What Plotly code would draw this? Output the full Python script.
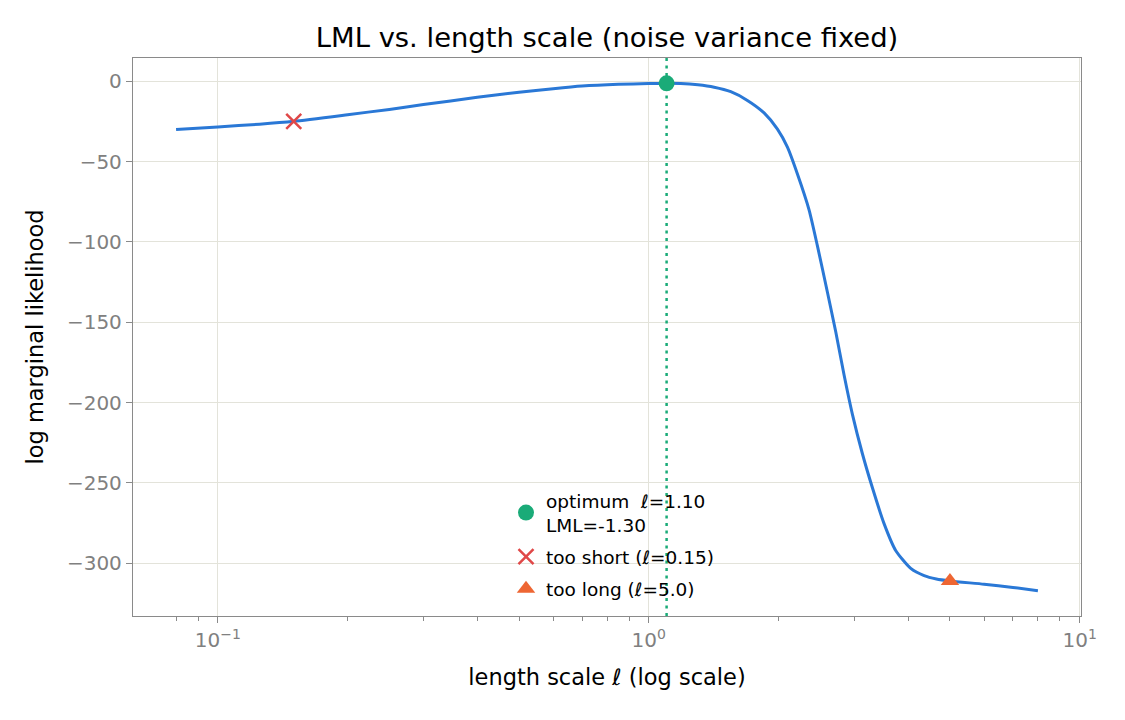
import numpy as np
import plotly.graph_objects as go

# ---- data ----
length_scale = [0.08, 0.10, 0.125, 0.15, 0.20, 0.25, 0.30, 0.40, 0.50, 0.60, 0.70, 0.85,
                1.00, 1.10, 1.186, 1.30, 1.418, 1.55, 1.694, 1.852, 1.989, 2.098, 2.213,
                2.355, 2.462, 2.598, 2.716, 2.839, 2.969, 3.132, 3.304, 3.516, 3.741,
                4.055, 4.355, 4.65, 5.0, 6.0, 7.0, 8.0]
lml = [-30.0, -28.4, -26.7, -24.9, -20.8, -17.5, -14.5, -10.0, -6.8, -4.6, -3.0, -1.9,
       -1.4, -1.30, -1.4, -2.2, -3.7, -6.5, -11.9, -19.7, -29.8, -41.0, -57.7,
       -80.0, -102.3, -131.3, -155.9, -182.7, -207.3, -231.8, -253.0, -275.3, -292.0,
       -303.2, -307.7, -309.8, -311.0, -313.0, -315.0, -317.0]

opt_l, opt_lml = 1.10, -1.30
short_l, short_lml = 0.15, -24.9
long_l, long_lml = 5.0, -311.0

x_tickvals = [0.1, 1, 10]
x_ticktext = ["10<sup>−1</sup>", "10<sup>0</sup>", "10<sup>1</sup>"]
x_minor = [0.08, 0.09] + [k / 10 for k in range(2, 10)] + list(range(2, 10))
y_tickvals = [0, -50, -100, -150, -200, -250, -300]
y_ticktext = ["0", "−50", "−100", "−150", "−200", "−250", "−300"]

# ---- ranges (matplotlib-like 5% margins) ----
lx0, lx1 = np.log10(min(length_scale)), np.log10(max(length_scale))
pad = 0.05 * (lx1 - lx0)
x_range = [lx0 - pad, lx1 + pad]
ypad = 0.05 * (max(lml) - min(lml))
y_range = [min(lml) - ypad, max(lml) + ypad]

BLUE = "#2a78d6"
GREEN = "#1aab78"
RED = "#e04848"
ORANGE = "#ee6633"
GRID = "#e3e3da"
AXC = "#8a8a8a"
TICKC = "#808080"
FONT = "DejaVu Sans"

fig = go.Figure()
fig.add_trace(go.Scatter(x=length_scale, y=lml, mode="lines",
                         line=dict(color=BLUE, width=3, shape="spline", smoothing=0.6),
                         showlegend=False, hoverinfo="skip"))
fig.add_trace(go.Scatter(x=[opt_l, opt_l], y=y_range, mode="lines",
                         line=dict(color=GREEN, width=2.5, dash="3px,4.5px"),
                         showlegend=False, hoverinfo="skip"))
fig.add_trace(go.Scatter(x=[opt_l], y=[opt_lml], mode="markers",
                         marker=dict(color=GREEN, size=16, symbol="circle"),
                         legendgroup="a",
                         name=f"optimum  ℓ={opt_l:.2f}<br>LML={opt_lml:.2f}"))
fig.add_trace(go.Scatter(x=[short_l], y=[short_lml], mode="markers",
                         marker=dict(color=RED, size=15, symbol="x-thin",
                                     line=dict(color=RED, width=2.5)),
                         legendgroup="b",
                         name=f"too short (ℓ={short_l:.2f})"))
fig.add_trace(go.Scatter(x=[long_l], y=[long_lml], mode="markers",
                         marker=dict(color=ORANGE, size=16, symbol="triangle-up"),
                         legendgroup="c",
                         name=f"too long (ℓ={long_l:.1f})"))

fig.update_layout(
    width=1125, height=720,
    margin=dict(l=133, r=44, t=58, b=104),
    paper_bgcolor="white", plot_bgcolor="white",
    font=dict(family=FONT, color="black"),
    title=dict(text="LML vs. length scale (noise variance fixed)",
               x=(133 + 1081) / 2 / 1125, xanchor="center",
               y=1 - 37 / 720, yanchor="middle",
               font=dict(size=27.4, family=FONT, color="black")),
    legend=dict(x=(506 - 133) / 948, y=(616 - 482) / 558, xanchor="left", yanchor="top",
                bgcolor="rgba(255,255,255,0)", borderwidth=0,
                font=dict(size=18.5, family=FONT, color="black"),
                itemsizing="trace", traceorder="grouped", tracegroupgap=5),
    showlegend=True,
)
fig.update_xaxes(type="log", range=x_range,
                 tickvals=x_tickvals, ticktext=x_ticktext,
                 ticks="outside", ticklen=6, tickwidth=1, tickcolor=AXC,
                 tickfont=dict(size=20, color=TICKC, family=FONT),
                 showgrid=True, gridcolor=GRID, gridwidth=1,
                 showline=True, linecolor=AXC, linewidth=1.3, mirror=True,
                 zeroline=False,
                 minor=dict(tickvals=x_minor, ticks="outside", ticklen=3.5,
                            tickcolor=AXC, tickwidth=1, showgrid=False),
                 title=dict(text="length scale ℓ (log scale)", standoff=18,
                            font=dict(size=22.5, family=FONT, color="black")))
fig.update_yaxes(range=y_range,
                 tickvals=y_tickvals, ticktext=y_ticktext,
                 ticks="outside", ticklen=6, tickwidth=1, tickcolor=AXC,
                 tickfont=dict(size=20, color=TICKC, family=FONT),
                 showgrid=True, gridcolor=GRID, gridwidth=1,
                 showline=True, linecolor=AXC, linewidth=1.3, mirror=True,
                 zeroline=False,
                 title=dict(text="log marginal likelihood", standoff=17,
                            font=dict(size=22.5, family=FONT, color="black")))

fig.write_html("out.html")
